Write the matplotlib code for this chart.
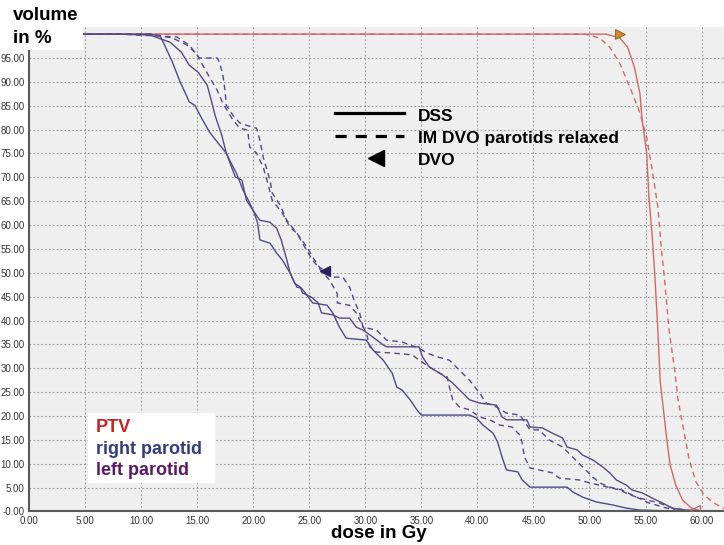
import numpy as np
import matplotlib
matplotlib.use("Agg")
import matplotlib.pyplot as plt
from matplotlib import font_manager
from matplotlib.lines import Line2D
from matplotlib.patches import Rectangle

# --- data (dose in Gy, volume in %) ---
ptv_dss_dose = [0, 51.5, 52.7, 53.4, 54.0, 54.5, 54.7, 55.1, 55.3, 55.6, 55.8, 56.1, 56.3,
                56.6, 56.9, 57.2, 57.7, 58.3, 59.1, 60.0, 60.5]
ptv_dss_vol = [100, 100, 99.2, 97.3, 93.1, 87.6, 82.0, 75.1, 65.9, 57.5, 50.6, 38.0, 27.5,
               21.3, 15.0, 9.7, 5.5, 2.4, 0.7, 0.1, 0]

ptv_dvo_dose = [0, 49.6, 50.9, 51.8, 52.7, 53.6, 54.5, 55.1, 55.6, 56.1, 56.4, 56.7, 57.1,
                57.6, 57.9, 58.4, 58.9, 59.5, 60.2, 61.1, 61.9, 62.9]
ptv_dvo_vol = [100, 100, 99.2, 97.3, 93.9, 88.9, 83.5, 78.4, 71.5, 63.8, 55.4, 48.5, 38.0,
               29.6, 23.4, 17.1, 10.8, 6.2, 3.5, 1.8, 0.7, 0.1]

right_dss_dose = [0, 10.8, 11.7, 12.1, 12.8, 13.5, 13.9, 14.3, 14.8, 15.4, 16.1, 17.0, 17.6,
                  17.9, 18.5, 19.1, 19.7, 20.1, 20.4, 20.6, 21.5, 22.1, 22.6, 23.3, 23.9,
                  24.3, 24.8, 25.3, 26.6, 27.1, 27.7, 28.3, 30.1, 30.7, 31.6, 32.4, 32.8,
                  33.3, 34.0, 34.6, 35.0, 39.3, 39.9, 40.5, 41.4, 41.8, 42.2, 42.6, 43.6,
                  44.0, 44.7, 48.0, 48.5, 49.4, 50.6, 52.0, 53.3, 54.5, 57.4, 58.0]
right_dss_vol = [100, 100, 99.6, 97.7, 94.1, 89.9, 87.9, 85.8, 85.1, 82.4, 79.5, 76.8, 75.1,
                 73.6, 70.9, 67.3, 64.6, 62.5, 60.4, 56.9, 56.2, 54.1, 52.7, 49.9, 47.0,
                 46.8, 45.3, 43.7, 43.2, 41.6, 38.6, 36.3, 35.9, 33.8, 31.7, 29.0, 26.1,
                 25.4, 23.4, 21.3, 20.2, 20.2, 19.6, 18.1, 16.4, 14.6, 11.4, 8.7, 8.3,
                 6.6, 5.1, 5.1, 4.1, 3.0, 2.0, 1.4, 0.7, 0.3, 0.1, 0]

left_dss_dose = [0, 8.1, 10.8, 12.6, 13.6, 14.3, 15.1, 15.9, 16.3, 16.6, 17.2, 17.6, 18.4,
                 19.0, 19.4, 20.1, 20.6, 21.5, 22.1, 22.5, 23.0, 23.3, 23.7, 24.2, 24.4,
                 25.2, 25.8, 26.1, 27.1, 27.7, 28.6, 29.2, 29.8, 30.7, 31.6, 31.9, 34.8,
                 35.1, 35.7, 36.9, 37.8, 38.7, 39.3, 40.2, 41.7, 42.2, 42.6, 44.4, 44.7,
                 45.8, 46.7, 47.6, 48.0, 48.9, 49.4, 50.3, 51.2, 51.8, 52.4, 53.3, 53.8,
                 54.7, 55.6, 56.5, 57.4, 58.6, 59.5, 60.0]
left_dss_vol = [100, 100, 99.8, 98.3, 96.2, 93.5, 92.0, 89.3, 85.8, 83.0, 78.8, 75.1, 70.1,
                69.4, 65.2, 62.7, 61.0, 60.6, 59.3, 56.9, 52.7, 49.9, 47.8, 47.0, 45.8,
                44.9, 43.7, 41.6, 41.2, 40.5, 40.5, 38.6, 38.0, 36.5, 34.9, 34.5, 34.5,
                32.4, 30.3, 28.6, 26.9, 24.8, 23.4, 22.7, 22.3, 19.8, 19.2, 19.2, 17.7,
                17.5, 16.4, 15.4, 13.5, 12.9, 11.8, 10.8, 9.3, 8.1, 6.6, 5.5, 4.5,
                3.9, 2.8, 1.8, 0.7, 0.3, 0.1, 0]

right_dvo_dose = [0, 10.8, 12.8, 14.1, 14.8, 15.2, 16.8, 17.0, 17.3, 17.5, 17.6, 18.2, 18.8,
                  19.4, 20.3, 20.6, 20.9, 21.5, 21.7, 22.4, 23.0, 23.9, 24.8, 25.3, 25.9,
                  26.4, 27.1, 28.0, 28.6, 29.1, 29.5, 29.8, 31.0, 31.9, 33.3, 34.8, 35.5,
                  36.4, 37.5, 38.4, 39.3, 40.2, 40.8, 41.7, 42.6, 43.8, 44.7, 45.5, 46.4,
                  47.6, 48.5, 49.4, 50.3, 50.9, 51.8, 52.9, 54.2, 55.3, 56.9, 58.0, 59.0]
right_dvo_vol = [100, 100, 99.2, 97.7, 96.2, 95.0, 95.0, 94.1, 91.4, 87.9, 85.1, 83.0, 81.4,
                 80.9, 80.3, 77.8, 74.2, 69.4, 66.7, 64.2, 61.0, 58.3, 55.4, 53.3, 51.2,
                 50.4, 49.1, 49.1, 47.0, 43.7, 41.6, 38.6, 38.0, 35.9, 35.5, 34.2, 33.2,
                 32.4, 31.7, 29.6, 27.5, 24.8, 22.7, 21.9, 20.6, 20.2, 17.1, 17.1, 15.0,
                 13.5, 11.4, 9.3, 7.2, 6.0, 5.1, 4.5, 3.0, 1.8, 0.7, 0.1, 0]

left_dvo_dose = [0, 8.1, 13.2, 14.3, 15.0, 15.5, 16.1, 16.8, 17.3, 18.2, 18.8, 19.5, 19.7,
                 20.3, 20.9, 21.3, 21.7, 22.6, 23.3, 23.9, 24.6, 25.2, 25.9, 26.8, 27.5,
                 27.5, 28.6, 29.2, 29.5, 30.1, 30.4, 31.0, 32.4, 34.2, 34.8, 35.7, 36.6,
                 37.3, 37.5, 37.8, 38.4, 39.3, 40.2, 41.1, 42.0, 43.1, 43.8, 44.0, 44.2,
                 44.7, 45.5, 46.7, 47.3, 49.1, 50.0, 52.7, 53.6, 54.5, 56.2, 57.4, 58.6,
                 59.8, 60.5]
left_dvo_vol = [100, 100, 99.4, 97.7, 95.6, 93.5, 91.0, 88.2, 85.5, 82.0, 80.3, 79.9, 76.3,
                75.1, 72.1, 68.8, 65.2, 62.5, 59.5, 58.3, 55.4, 53.0, 50.9, 48.5, 45.7,
                43.7, 43.2, 41.6, 40.1, 37.4, 34.5, 33.4, 33.2, 32.8, 31.7, 30.3, 29.0,
                28.2, 26.1, 23.4, 21.9, 21.3, 19.8, 19.2, 18.1, 17.7, 16.0, 14.3, 11.4,
                9.1, 8.7, 8.1, 7.0, 6.6, 6.0, 4.5, 3.5, 2.8, 1.8, 0.7, 0.3,
                0.1, 0]

# objective markers (dose, volume)
ptv_obj = (52.7, 100)
parotid_obj = (26.4, 50.4)
ptv_max_obj = (59.4, 0.4)

x_ticks = np.arange(0, 61, 5)
x_labels = ["%.2f" % v for v in x_ticks]
y_ticks = np.arange(0, 96, 5)
y_labels = ["-0.00"] + ["%.2f" % v for v in y_ticks[1:]]

red = "#d06868"
c_right = "#4c4c88"
c_left = "#5a4a80"

names = {f.name for f in font_manager.fontManager.ttflist}
tick_font = "Liberation Sans Narrow" if "Liberation Sans Narrow" in names else "Liberation Sans"
bold_font = "Liberation Sans"

fig = plt.figure(figsize=(7.24, 5.45), dpi=100)
fig.patch.set_facecolor("white")
ax = fig.add_axes([0.040, 0.0615, 0.960, 0.889])
ax.set_facecolor("#efefef")

ax.plot(ptv_dss_dose, ptv_dss_vol, color=red, lw=1.0)
ax.plot(ptv_dvo_dose, ptv_dvo_vol, color=red, lw=1.0, ls=(0, (4, 3)))
ax.plot(right_dss_dose, right_dss_vol, color=c_right, lw=1.0)
ax.plot(left_dss_dose, left_dss_vol, color=c_left, lw=1.0)
ax.plot(right_dvo_dose, right_dvo_vol, color=c_right, lw=1.0, ls=(0, (4, 3)))
ax.plot(left_dvo_dose, left_dvo_vol, color=c_left, lw=1.0, ls=(0, (4, 3)))

ax.plot(*ptv_obj, marker=">", ms=7, color="#d08a2a", mec="#8a5a20", mew=0.6, zorder=5)
ax.plot(*parotid_obj, marker="<", ms=7, color="#2a2060", zorder=5)
ax.plot(*ptv_max_obj, marker="<", ms=7, mfc="none", mec="#a07070", mew=0.9, zorder=5)

ax.set_xlim(0, 62)
ax.set_ylim(0, 101.5)
ax.set_xticks(x_ticks)
ax.set_xticklabels(x_labels)
ax.set_yticks(y_ticks)
ax.set_yticklabels(y_labels)
ax.tick_params(length=0, pad=3, labelsize=7, labelcolor="#333333")
for lab in ax.get_xticklabels() + ax.get_yticklabels():
    lab.set_family(tick_font)
ax.grid(True, ls=(0, (1.5, 2)), color="#9a9a9a", lw=0.8)
ax.set_axisbelow(True)
for s in ["top", "right"]:
    ax.spines[s].set_visible(False)
for s in ["left", "bottom"]:
    ax.spines[s].set_color("#5a5a5a")
    ax.spines[s].set_linewidth(1.5)

# axis titles
fig.add_artist(Rectangle((0, 0.908), 0.1146, 0.092, transform=fig.transFigure,
                         facecolor="white", edgecolor="none", zorder=10))
fig.text(0.018, 0.972, "volume", fontsize=13.5, fontweight="bold", family=bold_font,
         va="center", ha="left", zorder=11)
fig.text(0.018, 0.929, "in %", fontsize=13.5, fontweight="bold", family=bold_font,
         va="center", ha="left", zorder=11)
fig.text(0.457, 0.022, "dose in Gy", fontsize=13.5, fontweight="bold", family=bold_font,
         va="center", ha="left")

# line style key
fig.add_artist(Line2D([0.4627, 0.558], [0.7927, 0.7927], color="black", lw=2.3,
                      transform=fig.transFigure))
fig.add_artist(Line2D([0.4627, 0.558], [0.7505, 0.7505], color="black", lw=2.3,
                      ls=(0, (3.5, 2.8)), transform=fig.transFigure))
fig.add_artist(Line2D([0.519], [0.710], color="black", marker="<", ms=11, lw=0,
                      transform=fig.transFigure))
for ty, txt in [(0.786, "DSS"), (0.745, "IM DVO parotids relaxed"), (0.705, "DVO")]:
    fig.text(0.577, ty, txt, fontsize=12.5, fontweight="bold", family=bold_font,
             va="center", ha="left")

# structure key
fig.add_artist(Rectangle((0.1215, 0.1138), 0.1755, 0.1284, transform=fig.transFigure,
                         facecolor="white", edgecolor="none", zorder=10))
for ty, txt, col in [(0.2165, "PTV", "#cc2020"), (0.176, "right parotid", "#343c80"),
                     (0.1358, "left parotid", "#5a1a66")]:
    fig.text(0.1326, ty, txt, fontsize=13, fontweight="bold", family=bold_font,
             color=col, va="center", ha="left", zorder=11)

fig.savefig("out.png", dpi=100)
